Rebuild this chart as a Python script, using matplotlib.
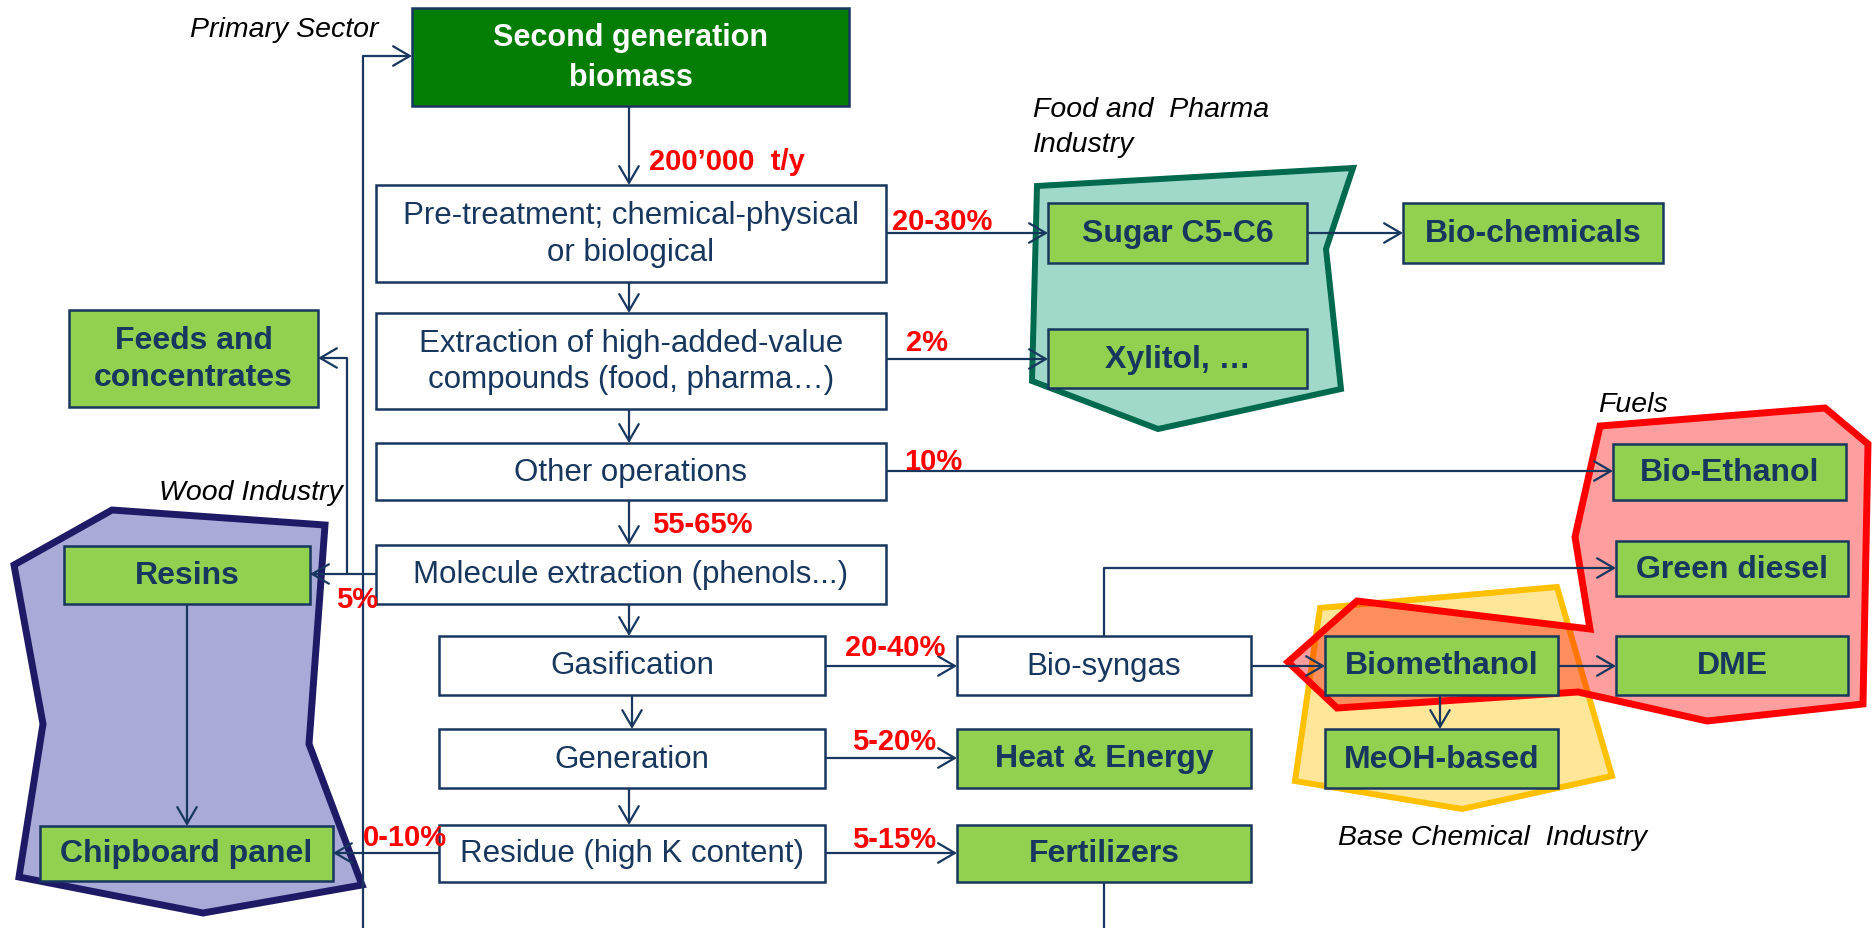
import matplotlib.pyplot as plt
from matplotlib.patches import Rectangle, Polygon, FancyArrowPatch

plt.rcParams['font.family'] = ['Liberation Sans', 'DejaVu Sans']

# --- content of the flow sheet ---
feedstock = 'Second generation\nbiomass'
process_steps = ['Pre-treatment; chemical-physical\nor biological',
                 'Extraction of high-added-value\ncompounds (food, pharma\u2026)',
                 'Other operations',
                 'Molecule extraction (phenols...)',
                 'Gasification',
                 'Generation',
                 'Residue (high K content)',
                 'Bio-syngas']
products = ['Feeds and\nconcentrates', 'Sugar C5-C6', 'Bio-chemicals', 'Xylitol, \u2026',
            'Bio-Ethanol', 'Green diesel', 'Biomethanol', 'DME', 'MeOH-based',
            'Heat & Energy', 'Fertilizers', 'Resins', 'Chipboard panel']
flow_shares = ['200\u2019000  t/y', '20-30%', '2%', '10%', '55-65%', '5%',
               '20-40%', '5-20%', '5-15%', '0-10%']
sectors = ['Primary Sector', 'Food and  Pharma\nIndustry', 'Fuels',
           'Wood Industry', 'Base Chemical  Industry']

# --- layout (pixel coordinates, origin top left) ---
feed_box = (412, 9, 849, 107)
step_boxes = [(376, 186, 886, 283), (376, 314, 886, 410), (376, 444, 886, 501),
              (376, 546, 886, 605), (439, 637, 825, 696), (439, 730, 825, 789),
              (439, 826, 825, 883), (957, 637, 1251, 696)]
product_boxes = [(69, 311, 318, 408), (1048, 204, 1307, 264), (1403, 204, 1663, 264),
                 (1048, 330, 1307, 389), (1613, 445, 1846, 501), (1616, 542, 1848, 597),
                 (1325, 637, 1558, 696), (1616, 637, 1848, 696), (1325, 730, 1558, 789),
                 (957, 730, 1251, 789), (957, 826, 1251, 883), (64, 547, 310, 605),
                 (40, 827, 333, 882)]
share_pos = [(649, 162), (892, 222), (906, 343), (904, 462), (652, 525), (336, 600),
             (845, 648), (852, 742), (852, 840), (363, 838)]
sector_pos = [(378, 30, 'right'), (1033, 127, 'left'), (1598, 405, 'left'),
              (343, 493, 'right'), (1338, 838, 'left')]

sector_shapes = {
    'food': ([(1037, 187), (1353, 169), (1326, 250), (1341, 390), (1158, 430), (1032, 382)],
             '#a0d9ca', '#006a4e', 4.3),
    'wood': ([(112, 511), (325, 526), (309, 745), (362, 886), (203, 914), (19, 878),
              (43, 725), (14, 566)], '#aaaad9', '#1e1a66', 5.0),
    'chem': ([(1320, 609), (1557, 588), (1612, 777), (1462, 810), (1295, 782)],
             '#ffe699', '#ffc000', 4.3),
    'fuel': ([(1600, 427), (1825, 409), (1868, 445), (1863, 705), (1707, 722),
              (1578, 693), (1337, 709), (1288, 663), (1357, 602), (1590, 630),
              (1575, 538)], (1, 0, 0, 0.38), '#ff0000', 5.0),
}

# connectors: (points, arrow at end)
links = [
    ([(629, 107), (629, 186)], True),
    ([(629, 283), (629, 314)], True),
    ([(629, 410), (629, 444)], True),
    ([(629, 501), (629, 546)], True),
    ([(629, 605), (629, 637)], True),
    ([(632, 696), (632, 730)], True),
    ([(629, 789), (629, 826)], True),
    ([(363, 929), (363, 57), (412, 57)], True),
    ([(886, 234), (1048, 234)], True),
    ([(1307, 234), (1403, 234)], True),
    ([(886, 360), (1048, 360)], True),
    ([(886, 472), (1613, 472)], True),
    ([(376, 575), (310, 575)], True),
    ([(347, 575), (347, 359), (318, 359)], True),
    ([(825, 667), (957, 667)], True),
    ([(1104, 637), (1104, 569), (1616, 569)], True),
    ([(1251, 667), (1325, 667)], True),
    ([(1558, 667), (1616, 667)], True),
    ([(1440, 696), (1440, 730)], True),
    ([(825, 759), (957, 759)], True),
    ([(825, 854), (957, 854)], True),
    ([(439, 854), (333, 854)], True),
    ([(187, 605), (187, 827)], True),
    ([(1104, 883), (1104, 929)], False),
]

navy = '#17375e'
green = '#92d050'
dark_green = '#047d04'

fig = plt.figure(figsize=(18.72, 9.29), dpi=100)
ax = fig.add_axes([0, 0, 1, 1])
ax.set_xlim(0, 1872)
ax.set_ylim(929, 0)
ax.axis('off')

# sector outlines (yellow before red so the red tint overlaps it)
for key in ['food', 'wood', 'chem', 'fuel']:
    pts, fc, ec, lw = sector_shapes[key]
    ax.add_patch(Polygon(pts, closed=True, facecolor=fc, edgecolor=ec, lw=lw,
                         joinstyle='miter', zorder=1))

for pts, arrow in links:
    xs = [p[0] for p in pts]
    ys = [p[1] for p in pts]
    if arrow:
        ax.plot(xs[:-1], ys[:-1], color=navy, lw=1.6, zorder=2, solid_capstyle='butt')
        ax.add_patch(FancyArrowPatch(pts[-2], pts[-1],
                                     arrowstyle='->,head_length=12,head_width=7',
                                     color=navy, lw=1.6, shrinkA=0, shrinkB=0,
                                     mutation_scale=1, zorder=2))
    else:
        ax.plot(xs, ys, color=navy, lw=1.6, zorder=2)


def box(b, label, fc, tc, bold, size, spacing=1.3):
    x0, y0, x1, y1 = b
    ax.add_patch(Rectangle((x0, y0), x1 - x0, y1 - y0, facecolor=fc,
                           edgecolor=navy, lw=1.8, zorder=3))
    ax.text((x0 + x1) / 2, (y0 + y1) / 2, label, ha='center', va='center',
            color=tc, fontsize=size, fontweight='bold' if bold else 'normal',
            linespacing=spacing, zorder=4)


box(feed_box, feedstock, dark_green, 'white', True, 22, 1.4)
for b, label in zip(step_boxes, process_steps):
    box(b, label, 'white', navy, False, 22.5)
for b, label in zip(product_boxes, products):
    box(b, label, green, navy, True, 23)

for (x, y), label in zip(share_pos, flow_shares):
    ax.text(x, y, label, ha='left', va='center', color='#ff0000',
            fontsize=21, fontweight='bold', zorder=5)

for (x, y, ha), label in zip(sector_pos, sectors):
    ax.text(x, y, label, ha=ha, va='center', color='black', fontsize=20.5,
            fontstyle='italic', linespacing=1.45, zorder=5)

fig.savefig('out.png', dpi=100)
